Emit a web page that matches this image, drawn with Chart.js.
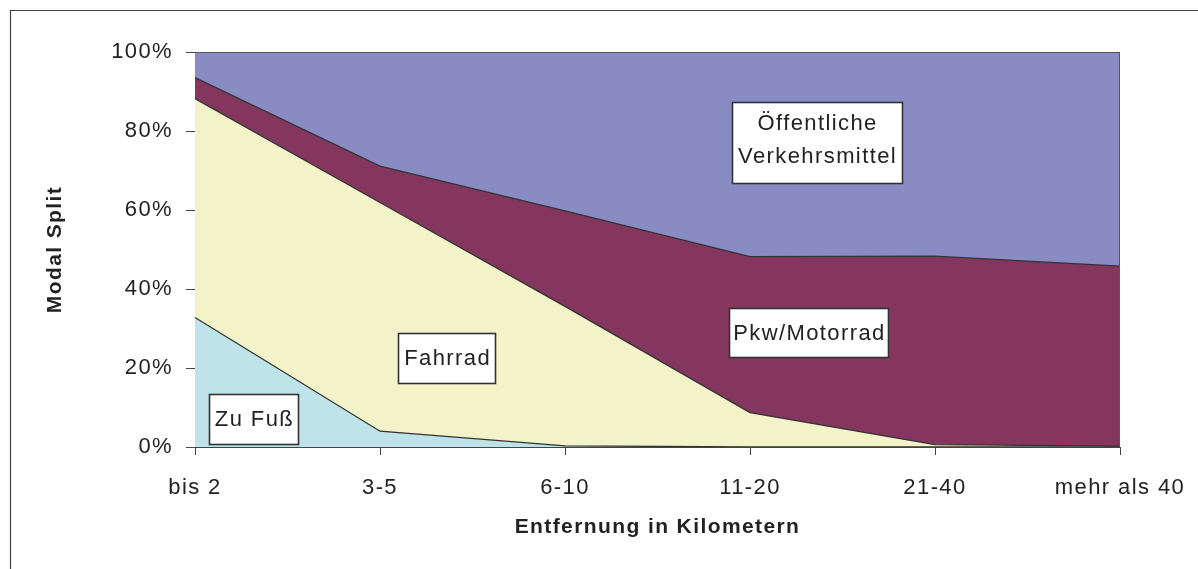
<!DOCTYPE html>
<html>
<head>
<meta charset="utf-8">
<script src="https://cdn.jsdelivr.net/npm/chart.js@4/dist/chart.umd.min.js"></script>
<style>
html,body{margin:0;padding:0;background:#fff;}
canvas{display:block;}
</style>
</head>
<body>
<canvas id="c" width="1198" height="569"></canvas>
<script>
// Data (percent shares)
const categories = ['bis 2', '3-5', '6-10', '11-20', '21-40', 'mehr als 40'];
const zuFuss   = [32.8, 4.0, 0.3, 0, 0, 0];
const fahrrad  = [55.4, 57.9, 35.3, 8.7, 0.6, 0.2];
const pkw      = [5.3, 9.2, 24.2, 39.5, 47.7, 45.6];
const oev      = [6.5, 28.9, 40.2, 51.8, 51.7, 54.2];
const yTicks   = [0, 20, 40, 60, 80, 100];
const seriesNames = ['Zu Fuß', 'Fahrrad', 'Pkw/Motorrad', 'Öffentliche Verkehrsmittel'];

const FONT = "'Liberation Sans', Arial, sans-serif";
const SPACING = '1.4px';

// Label boxes placed in data coordinates (category index, percent)
const labelBoxes = [
  {lines: ['Zu Fuß'], x: 0.316, y: 7.2, w: 89, h: 50},
  {lines: ['Fahrrad'], x: 1.36, y: 22.5, w: 97, h: 50},
  {lines: ['Pkw/Motorrad'], x: 3.316, y: 29.0, w: 159, h: 49},
  {lines: ['Öffentliche', 'Verkehrsmittel'], x: 3.36, y: 77.1, w: 170, h: 81}
];

const decor = {
  id: 'decor',
  beforeDraw(chart) {
    const ctx = chart.ctx;
    ctx.save();
    ctx.fillStyle = '#fff';
    ctx.fillRect(0, 0, chart.width, chart.height);
    ctx.strokeStyle = '#444';
    ctx.lineWidth = 1.2;
    ctx.beginPath();
    ctx.moveTo(10.5, chart.height);
    ctx.lineTo(10.5, 10.5);
    ctx.lineTo(chart.width, 10.5);
    ctx.stroke();
    ctx.restore();
    ctx.letterSpacing = SPACING;
  },
  afterDatasetsDraw(chart) {
    const ctx = chart.ctx;
    const a = chart.chartArea;
    ctx.save();
    ctx.strokeStyle = '#555';
    ctx.lineWidth = 1;
    ctx.beginPath();
    ctx.moveTo(a.left, a.top + 0.5);
    ctx.lineTo(a.right - 0.5, a.top + 0.5);
    ctx.lineTo(a.right - 0.5, a.bottom);
    ctx.stroke();
    const xs = chart.scales.x, ys = chart.scales.y;
    ctx.letterSpacing = SPACING;
    ctx.font = '22px ' + FONT;
    ctx.textAlign = 'center';
    ctx.textBaseline = 'middle';
    labelBoxes.forEach(b => {
      const cx = xs.getPixelForValue(b.x);
      const cy = ys.getPixelForValue(b.y);
      const x0 = Math.round(cx - b.w / 2) + 0.5, y0 = Math.round(cy - b.h / 2) + 0.5;
      ctx.fillStyle = '#fff';
      ctx.fillRect(x0, y0, b.w, b.h);
      ctx.strokeStyle = '#333';
      ctx.lineWidth = 1.6;
      ctx.strokeRect(x0, y0, b.w, b.h);
      ctx.fillStyle = '#222';
      const lh = 33;
      const dy = b.lines.length > 1 ? -3 : 0;
      b.lines.forEach((t, i) => {
        ctx.fillText(t, cx + 1, cy + dy + (i - (b.lines.length - 1) / 2) * lh + 1);
      });
    });
    ctx.restore();
    ctx.letterSpacing = SPACING;
  }
};

function ds(label, data, color, fill) {
  return {
    label, data, fill,
    backgroundColor: color,
    borderColor: '#333',
    borderWidth: 1.3,
    pointRadius: 0,
    pointHoverRadius: 0,
    tension: 0
  };
}

new Chart(document.getElementById('c'), {
  type: 'line',
  data: {
    labels: categories,
    datasets: [
      ds(seriesNames[0], zuFuss, '#BEE3E8', 'origin'),
      ds(seriesNames[1], fahrrad, '#F2F3C8', '-1'),
      ds(seriesNames[2], pkw, '#84365E', '-1'),
      ds(seriesNames[3], oev, '#898CC3', '-1')
    ]
  },
  options: {
    responsive: false,
    animation: false,
    events: [],
    layout: {padding: {left: 0, top: 52, right: 78, bottom: 0}},
    plugins: {legend: {display: false}, tooltip: {enabled: false}},
    scales: {
      x: {
        offset: false,
        grid: {drawOnChartArea: false, drawTicks: true, tickLength: 8, color: '#444', offset: false},
        border: {display: true, color: '#444', width: 1},
        ticks: {color: '#222', font: {size: 22, family: FONT}, padding: 20, maxRotation: 0, autoSkip: false},
        title: {display: true, text: 'Entfernung in Kilometern', color: '#222',
                font: {size: 21, weight: 'bold', family: FONT}, padding: {top: 0, bottom: 29}},
        afterFit(s) { s.height = 122; }
      },
      y: {
        stacked: true,
        min: 0, max: 100,
        afterBuildTicks(s) { s.ticks = yTicks.map(v => ({value: v})); },
        grid: {drawOnChartArea: false, drawTicks: true, tickLength: 9, color: '#444'},
        border: {display: true, color: '#444', width: 1},
        ticks: {color: '#222', font: {size: 22, family: FONT}, padding: 13,
                callback: v => v + '%'},
        title: {display: true, text: 'Modal Split', color: '#222',
                font: {size: 21, weight: 'bold', family: FONT}, padding: {top: 43, bottom: 0}},
        afterFit(s) { s.width = 195; }
      }
    }
  },
  plugins: [decor]
});
</script>
</body>
</html>
